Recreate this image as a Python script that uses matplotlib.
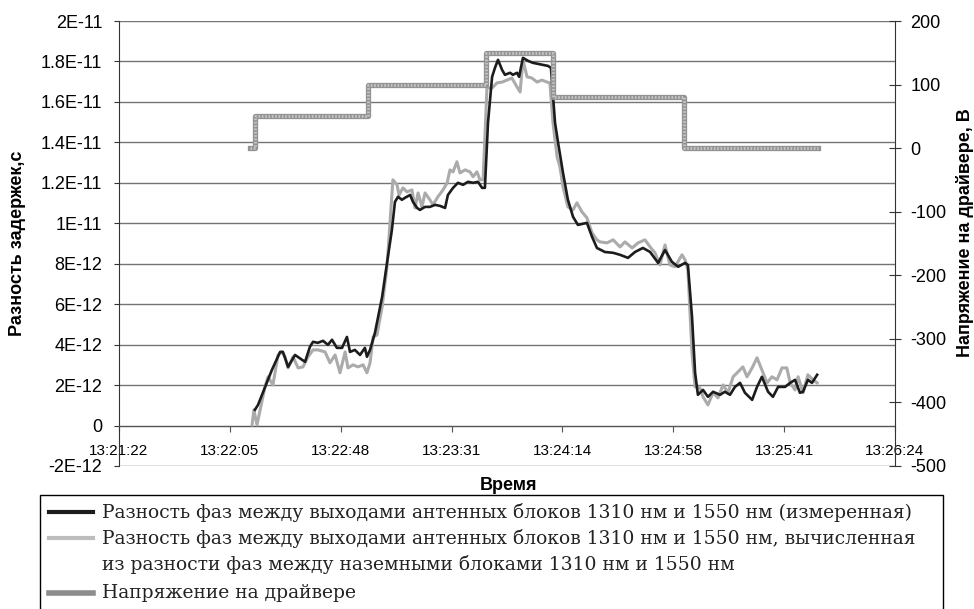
import matplotlib
matplotlib.use("Agg")
import matplotlib.pyplot as plt
from matplotlib.lines import Line2D
from matplotlib.patches import Rectangle
import numpy as np

# time in seconds after 13:21:22, delay difference in ps (1E-12 s)
t_meas = [52.9, 54.1, 59.5, 62.7, 63.8, 65.8, 68.5, 72.4, 74.3, 75.5, 77.4, 79.4, 81.3, 82.9,
          84.8, 86.8, 88.7, 89.9, 91.8, 93.8, 95.7, 96.5, 97.7, 99.6, 102.4, 104.3, 106.2,
          107.4, 108.6, 110.1, 111.3, 113.3, 114.4, 116.0, 117.1, 119.1, 121.0, 123.0, 124.9,
          126.9, 128.0, 130.0, 131.9, 133.9, 135.8, 137.8, 139.7, 141.3, 142.4, 143.6, 145.2,
          146.3, 147.5, 149.1, 150.2, 152.2, 153.3, 154.9, 155.7, 157.2, 159.2, 161.1, 163.1,
          165.0, 167.0, 168.1, 169.7, 170.9, 172.8, 174.7, 176.7, 178.6, 182.1, 184.1, 186.0,
          189.1, 192.3, 195.0, 198.1, 200.8, 203.9, 206.7, 209.8, 212.5, 215.2, 217.6, 220.3,
          221.4, 223.0, 224.2, 225.3, 227.3, 229.2, 231.2, 233.9, 235.8, 237.8, 239.7, 241.7,
          243.6, 246.4, 248.3, 250.2, 252.6, 254.5, 256.5, 259.2, 261.2, 263.1, 265.0, 266.2,
          268.1, 269.7, 271.7]
d_meas = [0.78, 1.02, 2.75, 3.64, 3.64, 2.90, 3.49, 3.15, 3.89, 4.14, 4.09, 4.19, 3.99, 4.24,
          3.84, 3.84, 4.38, 3.64, 3.74, 3.49, 3.84, 3.40, 3.74, 4.58, 6.36, 8.04, 9.67,
          11.06, 11.31, 11.16, 11.26, 11.40, 11.06, 10.76, 10.66, 10.81, 10.81, 10.91, 10.86,
          10.76, 11.40, 11.75, 12.00, 11.90, 12.05, 12.00, 12.05, 11.75, 11.75, 14.96, 17.24,
          17.68, 18.08, 17.58, 17.34, 17.44, 17.34, 17.44, 17.24, 18.18, 18.03, 17.93, 17.88,
          17.83, 17.78, 17.68, 14.96, 13.97, 12.49, 11.16, 10.32, 9.92, 10.02, 9.33, 8.78,
          8.58, 8.54, 8.44, 8.29, 8.58, 8.78, 8.58, 8.04, 8.68, 8.09, 7.85, 8.04,
          7.94, 5.38, 2.61, 1.52, 1.76, 1.42, 1.67, 1.52, 1.67, 1.52, 1.91, 2.11,
          1.62, 1.27, 1.91, 2.41, 1.67, 1.42, 1.91, 1.91, 2.11, 2.26, 1.62, 1.67,
          2.26, 2.11, 2.51]

t_calc = [51.8, 52.5, 53.7, 56.8, 58.0, 59.9, 61.9, 63.4, 64.6, 65.8, 67.7, 69.7, 71.6, 73.6,
          75.5, 77.4, 80.2, 82.1, 84.1, 86.0, 88.0, 89.1, 91.1, 93.0, 95.0, 96.5, 97.7, 98.9,
          100.4, 102.4, 104.3, 106.6, 108.2, 109.0, 110.5, 112.1, 114.0, 115.2, 116.4, 117.9,
          119.1, 121.0, 122.2, 124.1, 126.1, 127.7, 128.8, 130.0, 131.5, 132.7, 134.7, 136.6,
          137.8, 139.3, 140.5, 141.7, 143.2, 145.2, 147.1, 149.1, 151.0, 152.9, 154.9, 156.1,
          157.2, 158.8, 160.7, 162.7, 164.6, 166.6, 167.7, 168.9, 170.5, 171.6, 172.8, 174.7,
          176.7, 178.2, 180.2, 182.1, 184.1, 186.0, 187.2, 189.9, 192.3, 195.0, 196.9, 199.7,
          202.0, 204.7, 206.7, 208.6, 210.5, 212.5, 214.4, 216.4, 219.1, 220.3, 221.4, 223.0,
          224.2, 226.1, 227.3, 229.2, 231.2, 233.1, 235.1, 237.0, 239.0, 240.9, 242.8, 244.4,
          246.4, 248.3, 250.2, 252.2, 254.1, 256.1, 258.0, 259.9, 261.2, 263.1, 264.3, 266.2,
          268.1, 270.1, 271.7]
d_calc = [0.03, 0.78, 0.03, 1.91, 2.41, 2.01, 3.49, 3.64, 3.40, 2.85, 3.40, 2.85, 2.90, 3.40,
          3.74, 3.74, 3.64, 3.10, 3.49, 2.61, 3.64, 2.85, 3.00, 2.90, 3.00, 2.61, 3.10, 4.38,
          4.48, 5.87, 7.85, 12.15, 11.90, 11.40, 11.75, 11.55, 11.65, 10.76, 11.50, 10.81,
          11.50, 11.16, 10.91, 11.31, 11.65, 12.00, 12.64, 12.54, 13.04, 12.49, 12.64, 12.54,
          12.30, 12.54, 12.15, 12.15, 16.69, 16.69, 16.94, 16.98, 17.08, 17.18, 16.74, 16.49,
          18.08, 17.24, 17.18, 16.98, 17.08, 16.98, 16.94, 14.96, 13.28, 12.79, 11.80, 10.81,
          10.66, 11.01, 10.56, 10.27, 9.52, 9.18, 9.08, 9.03, 9.18, 8.83, 9.08, 8.78,
          9.03, 9.18, 8.83, 8.54, 7.94, 8.93, 7.94, 7.85, 8.44, 8.19, 7.70, 3.60,
          1.91, 1.86, 1.42, 1.02, 1.62, 1.37, 2.01, 1.62, 2.41, 2.65, 2.90, 2.41,
          2.85, 3.35, 2.75, 2.11, 2.41, 2.26, 2.85, 2.85, 2.11, 1.76, 2.41, 1.62,
          2.51, 2.26, 2.11]

# driver voltage, V (step changes)
t_volt = [51, 53, 97, 143, 169, 220, 272]
volt = [0, 50, 100, 150, 80, 0, 0]

left_ticks = [-2, 0, 2, 4, 6, 8, 10, 12, 14, 16, 18, 20]
left_labels = ["-2E-12", "0", "2E-12", "4E-12", "6E-12", "8E-12", "1E-11",
               "1.2E-11", "1.4E-11", "1.6E-11", "1.8E-11", "2E-11"]
time_labels = ["13:21:22", "13:22:05", "13:22:48", "13:23:31",
               "13:24:14", "13:24:58", "13:25:41", "13:26:24"]
legend_lines = [
    "Разность фаз между выходами антенных блоков 1310 нм и 1550 нм (измеренная)",
    "Разность фаз между выходами антенных блоков 1310 нм и 1550 нм, вычисленная",
    "из разности фаз между наземными блоками 1310 нм и 1550 нм",
    "Напряжение на драйвере",
]

plt.rcParams["font.family"] = ["Liberation Sans", "DejaVu Sans"]
plt.rcParams["axes.unicode_minus"] = False

fig = plt.figure(figsize=(9.74, 6.09), dpi=100)
ax = fig.add_axes([119 / 974, 1 - 466 / 609, 776 / 974, 445 / 609])
ax2 = ax.twinx()

ax.plot(t_calc, d_calc, color="#ababab", lw=2.2, solid_joinstyle="round", zorder=3)
ax.plot(t_meas, d_meas, color="#1c1c1c", lw=1.9, solid_joinstyle="round", zorder=4)

ax2.plot(t_volt, volt, drawstyle="steps-post", color="#939393", lw=3.8)
ax2.plot(t_volt, volt, drawstyle="steps-post", color="#c6c6c6", lw=2.0,
         linestyle=(0, (0.6, 0.6)))

ax.set_xlim(0, 302)
ax.set_ylim(-2, 20)
ax2.set_ylim(-500, 200)

ax.set_yticks(left_ticks)
ax.set_yticklabels(left_labels)
ax.set_xticks([i * 302 / 7 for i in range(8)])
ax.set_xticklabels(time_labels)
ax2.set_yticks(range(-500, 201, 100))

ax.grid(axis="y", color="#747474", lw=1.0)
ax.set_axisbelow(True)

for s in ["top", "right"]:
    ax.spines[s].set_visible(False)
for s in ["top", "left", "bottom"]:
    ax2.spines[s].set_visible(False)
ax.spines["bottom"].set_position(("data", 0))
ax.spines["bottom"].set_color("#555555")
ax.spines["left"].set_color("#333333")
ax2.spines["right"].set_color("#333333")

ax.tick_params(axis="y", direction="out", length=3.6, pad=8.5, labelsize=13,
               color="#333333")
ax.tick_params(axis="x", direction="out", length=4, pad=9, labelsize=11,
               color="#555555")
ax2.tick_params(axis="y", direction="inout", length=8, pad=7, labelsize=13,
                color="#333333")

fig.text(18 / 974, 1 - 243 / 609, "Разность задержек,с", rotation=90,
         ha="center", va="center", fontsize=13, fontweight="bold")
fig.text(965 / 974, 1 - 233 / 609, "Напряжение на драйвере, В", rotation=90,
         ha="center", va="center", fontsize=13, fontweight="bold")
fig.text(509 / 974, 1 - 485 / 609, "Время", ha="center", va="center",
         fontsize=13, fontweight="bold")

# legend box drawn by hand
fig.patches.append(Rectangle((40 / 974, -0.01), 903 / 974, 1 - 495 / 609 + 0.01,
                             transform=fig.transFigure, fill=False,
                             edgecolor="black", lw=1.0))
hx = [49 / 974, 93 / 974]
for y, c, w in [(512, "#1c1c1c", 3.0), (538, "#bdbdbd", 3.0), (593, "#8c8c8c", 4.0)]:
    fig.add_artist(Line2D(hx, [1 - y / 609] * 2, color=c, lw=w,
                          transform=fig.transFigure))
for y, txt in zip([512, 538, 565, 593], legend_lines):
    fig.text(102 / 974, 1 - y / 609, txt, ha="left", va="center",
             fontsize=13.5, family="DejaVu Serif", color="#222222")

fig.savefig("out.png", dpi=100)
